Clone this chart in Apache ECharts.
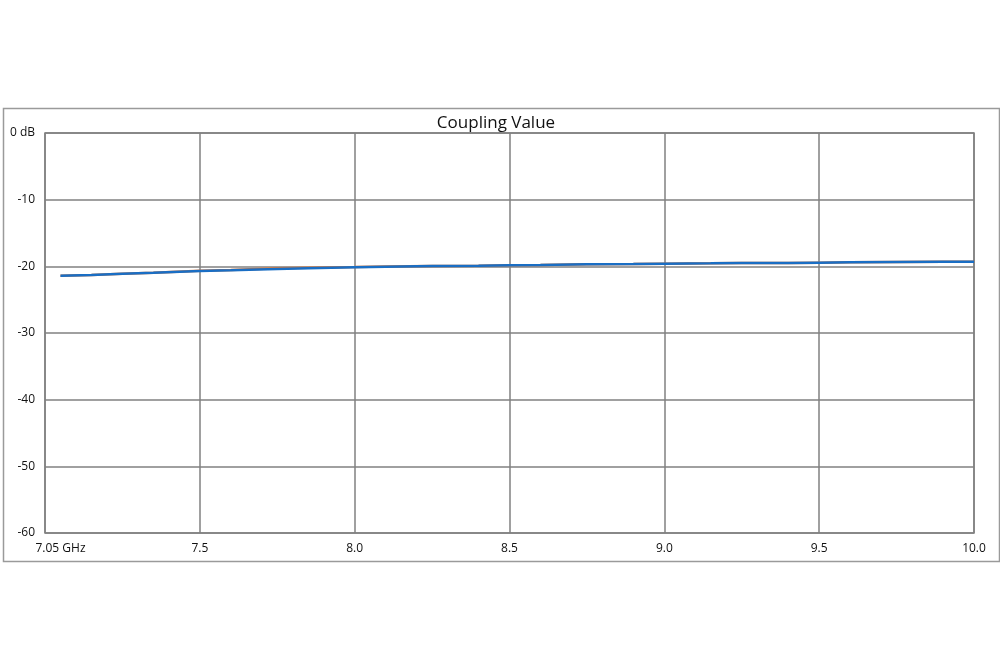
<!DOCTYPE html>
<html>
<head>
<meta charset="utf-8">
<script src="https://cdn.jsdelivr.net/npm/echarts@6/dist/echarts.min.js"></script>
<style>html,body{margin:0;padding:0;background:#fff}#c{width:1000px;height:667px}</style>
</head>
<body>
<div id="c"></div>
<script>
var freqGHz = [7.05, 7.15, 7.25, 7.35, 7.5, 7.6, 7.75, 7.85, 8.0, 8.1, 8.25, 8.4, 8.5, 8.6, 8.75, 8.9, 9.0, 9.15, 9.25, 9.4, 9.5, 9.6, 9.75, 9.9, 10.0];
var blueDb = [-21.4, -21.3, -21.1, -20.95, -20.7, -20.6, -20.4, -20.3, -20.15, -20.05, -19.95, -19.9, -19.85, -19.8, -19.7, -19.65, -19.6, -19.55, -19.5, -19.5, -19.45, -19.4, -19.35, -19.3, -19.3];
var orangeDb = [-21.4, -21.3, -21.1, -20.95, -20.68, -20.55, -20.3, -20.2, -20.1, -20.03, -19.94, -19.9, -19.85, -19.8, -19.7, -19.65, -19.6, -19.55, -19.5, -19.5, -19.45, -19.4, -19.35, -19.3, -19.3];
var xLabelValues = [7.05, 7.5, 8.0, 8.5, 9.0, 9.5, 10.0];

function pairs(xs, ys) { return xs.map(function (x, i) { return [x, ys[i]]; }); }

var chart = echarts.init(document.getElementById('c'));
var font = '"Open Sans", "Noto Sans", sans-serif';
chart.setOption({
  animation: false,
  backgroundColor: '#fff',
  textStyle: { fontFamily: font },
  title: {
    text: 'Coupling Value', left: 491, top: 110, textAlign: 'center',
    textStyle: { fontSize: 17, fontWeight: 'normal', color: '#111', fontFamily: font }
  },
  graphic: [{
    type: 'rect', left: 1, top: 106, silent: true,
    shape: { width: 996, height: 453 },
    style: { fill: 'none', stroke: '#9a9a9a', lineWidth: 1.5 }
  }],
  grid: { left: 45, right: 26, top: 133, bottom: 134, show: true, borderColor: '#808080', borderWidth: 1.5, backgroundColor: 'transparent' },
  xAxis: {
    type: 'value', min: 7.0, max: 10.0, interval: 0.5,
    axisLine: { show: false }, axisTick: { show: false },
    splitLine: { show: true, lineStyle: { color: '#808080', width: 1.5 } },
    axisLabel: {
      customValues: xLabelValues, margin: 10, color: '#111', fontSize: 12, fontFamily: font,
      formatter: function (v) { return Math.abs(v - 7.05) < 1e-6 ? '7.05 GHz' : v.toFixed(1); }
    }
  },
  yAxis: {
    type: 'value', min: -60, max: 0, interval: 10,
    axisLine: { show: false }, axisTick: { show: false },
    splitLine: { show: true, lineStyle: { color: '#808080', width: 1.5 } },
    axisLabel: {
      margin: 10, color: '#111', fontSize: 12, fontFamily: font,
      formatter: function (v) { return v === 0 ? '0 dB' : String(v); }
    }
  },
  series: [
    { type: 'line', data: pairs(freqGHz, orangeDb), showSymbol: false, lineStyle: { color: '#e07b39', width: 2.5 }, z: 2 },
    { type: 'line', data: pairs(freqGHz, blueDb), showSymbol: false, lineStyle: { color: '#1a6ec4', width: 2.5 }, z: 3 }
  ]
});
</script>
</body>
</html>
